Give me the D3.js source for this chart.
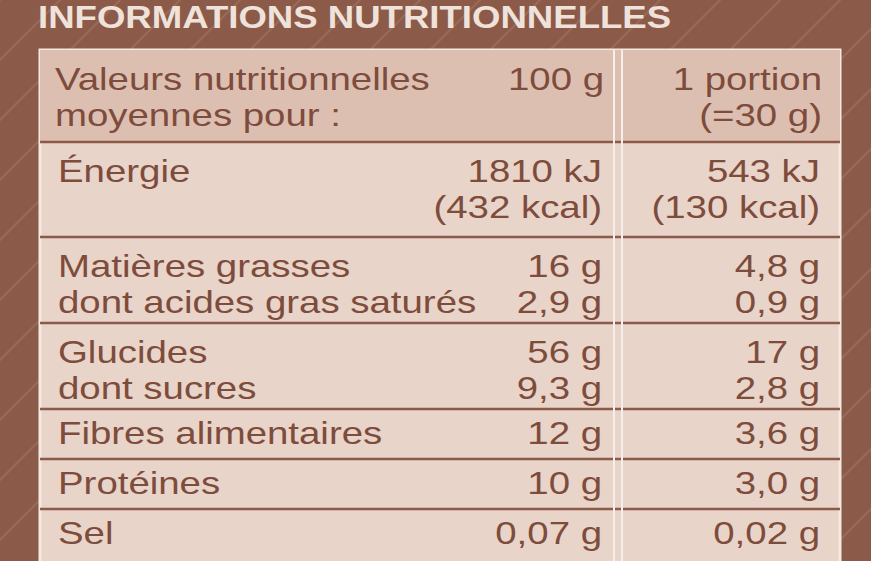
<!DOCTYPE html><html><head><meta charset="utf-8">
<script src="https://d3js.org/d3.v7.min.js"></script>
<style>body{margin:0;background:#8b5a49}</style></head><body>
<script>
const title = "INFORMATIONS NUTRITIONNELLES";
const headerLabel = ["Valeurs nutritionnelles","moyennes pour :"];
const headerCol1 = ["100 g",""];
const headerCol2 = ["1 portion","(=30 g)"];
const rowLabels = [["Énergie",""],["Matières grasses","dont acides gras saturés"],["Glucides","dont sucres"],["Fibres alimentaires"],["Protéines"],["Sel"]];
const per100 = [["1810 kJ","(432 kcal)"],["16 g","2,9 g"],["56 g","9,3 g"],["12 g"],["10 g"],["0,07 g"]];
const perPortion = [["543 kJ","(130 kcal)"],["4,8 g","0,9 g"],["17 g","2,8 g"],["3,6 g"],["3,0 g"],["0,02 g"]];
const rowBounds = [50,142,237,323,409,459,509,565];

const W=871,H=561;
const svg=d3.select("body").append("svg").attr("width",W).attr("height",H);
const defs=svg.append("defs");
const pat=defs.append("pattern").attr("id","p").attr("width",60).attr("height",60).attr("patternUnits","userSpaceOnUse");
pat.append("rect").attr("width",60).attr("height",60).attr("fill","#8b5a49");
pat.append("path").attr("d","M0,60 L60,0 M-15,15 L15,-15 M45,75 L75,45").attr("stroke","#9a6a58").attr("stroke-width",2);
svg.append("rect").attr("width",W).attr("height",H).attr("fill","url(#p)");
svg.append("text").attr("transform","translate(38,28) scale(1.18,1)").text(title).attr("fill","#efe2da")
  .attr("font-family","Liberation Sans, Arial").attr("font-weight","bold").attr("font-size",31);

const x0=40,x1=840,xd=614;
svg.append("rect").attr("x",x0).attr("y",50).attr("width",x1-x0).attr("height",520).attr("fill","#e9d4c9").attr("stroke","#f3e8e2").attr("stroke-width",3);
svg.append("rect").attr("x",x0).attr("y",50).attr("width",x1-x0).attr("height",rowBounds[1]-50).attr("fill","#ddbfb1");
svg.selectAll("line.h").data(rowBounds.slice(1,-1)).join("line").attr("x1",x0).attr("x2",x1).attr("y1",d=>d).attr("y2",d=>d).attr("stroke","#8b5a49").attr("stroke-width",2.5);
[xd,xd+8].forEach(xx=>svg.append("line").attr("x1",xx).attr("x2",xx).attr("y1",50).attr("y2",H).attr("stroke","#f6eeea").attr("stroke-width",2));

const col="#7d4c3c", font="Liberation Sans, Arial", fs=32;
function put(lines,top,xx,anchor){
  lines.forEach((t,i)=>{ if(!t) return;
    svg.append("text").attr("transform",`translate(${xx},${top+38+i*36}) scale(1.2,1)`).attr("text-anchor",anchor).text(t)
      .attr("fill",col).attr("font-family",font).attr("font-size",fs);});
}
put(headerLabel,52,55,"start"); put(headerCol1,52,604,"end"); put(headerCol2,52,822,"end");
rowLabels.forEach((l,i)=>{
  const top=rowBounds[i+1]+ (i<3?2:-3);
  put(l,top,58,"start"); put(per100[i],top,602,"end"); put(perPortion[i],top,820,"end");
});
</script></body></html>
